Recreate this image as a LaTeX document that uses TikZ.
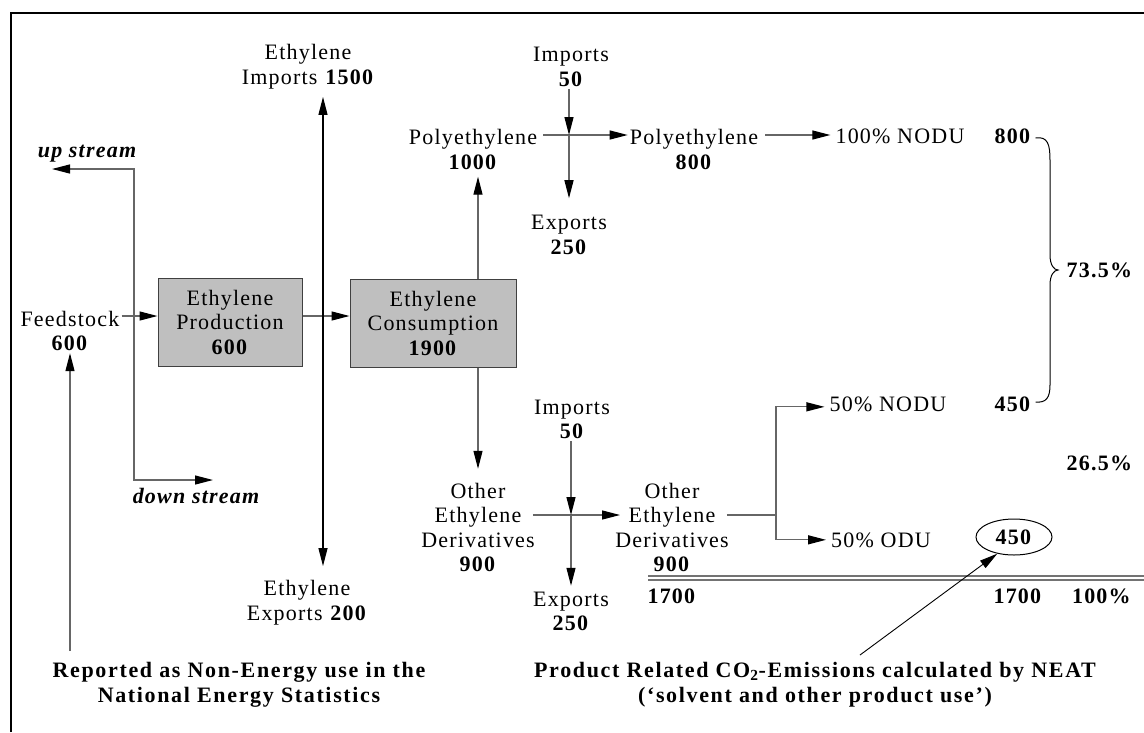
\documentclass[tikz,border=0pt]{standalone}
\usepackage{fontspec}
\setmainfont{Liberation Serif}[LetterSpace=5.5]
\newfontfamily\notefont{Liberation Serif}[LetterSpace=7.5]
\usetikzlibrary{arrows.meta,shapes.geometric}
\begin{document}
\begin{tikzpicture}[x=1pt,y=-1pt,
  every node/.style={inner sep=2pt, font=\fontsize{22}{24.5}\selectfont, align=center},
  bi/.style={font=\fontsize{22}{24.5}\selectfont\bfseries\itshape},
  note/.style={font=\fontsize{22}{25}\notefont\bfseries},
  box/.style={draw=black!75, fill=black!25, line width=1pt, inner sep=0pt},
  arr/.style={-{Triangle[length=18pt,width=9pt,color=black]}, draw=black!60, line width=1.2pt},
  arrb/.style={{Triangle[length=18pt,width=9pt,color=black]}-{Triangle[length=18pt,width=9pt,color=black]}, draw=black!60, line width=1.2pt},
  ln/.style={draw=black!60, line width=1.2pt},
  thinarr/.style={-{Triangle[length=18pt,width=9pt,color=black]}, draw=black, line width=0.9pt},
]
\useasboundingbox (0,0) rectangle (1144,732);
% frame
\draw[line width=1.3pt] (11,732) -- (11,13) -- (1144,13);

% nodes
\node (impE) at (308,66.5) {Ethylene\\Imports \textbf{1500}};
\node (expE) at (307,602.5) {Ethylene\\Exports \textbf{200}};
\node[bi, anchor=base] (up) at (87,157) {up stream};
\node[bi, anchor=base] (down) at (196,503) {down stream};
\node (feed) at (70,331) {Feedstock\\\textbf{600}};
\node[box, minimum width=144pt, minimum height=88pt] (prod) at (230,322) {Ethylene\\Production\\\textbf{600}};
\node[box, minimum width=166pt, minimum height=88pt] (cons) at (433,323) {Ethylene\\Consumption\\\textbf{1900}};

\node (polyA) at (473,149.5) {Polyethylene\\\textbf{1000}};
\coordinate (c1) at (569,135);
\node (imp1) at (571,67) {Imports\\\textbf{50}};
\node (exp1) at (569,235) {Exports\\\textbf{250}};
\node (polyB) at (694,149.5) {Polyethylene\\\textbf{800}};
\node[anchor=base] (nodu1) at (900,143) {100\% NODU};
\node[anchor=base] (v800) at (1013,143) {\textbf{800}};
\node[anchor=base] (p735) at (1100,277) {\textbf{73.5\%}};
\node[anchor=base] (nodu2) at (888,411) {50\% NODU};
\node[anchor=base] (v450) at (1013,411) {\textbf{450}};
\node[anchor=base] (p265) at (1100,470) {\textbf{26.5\%}};
\node[anchor=base] (odu) at (881,547) {50\% ODU};
\node[draw, ellipse, line width=1pt, minimum width=76pt, minimum height=36pt, inner sep=0pt] (e450) at (1014,537) {\textbf{450}};

\node (derA) at (478,527.5) {Other\\Ethylene\\Derivatives\\\textbf{900}};
\coordinate (c2) at (571,515);
\node (imp2) at (572,419.5) {Imports\\\textbf{50}};
\node (exp2) at (571,611.5) {Exports\\\textbf{250}};
\node (derB) at (672,527.5) {Other\\Ethylene\\Derivatives\\\textbf{900}};
\coordinate (split) at (776,515);

\node[anchor=base] (t1700a) at (672,603) {\textbf{1700}};
\node[anchor=base] (t1700b) at (1018,603) {\textbf{1700}};
\node[anchor=base] (t100) at (1102,603) {\textbf{100\%}};

\node[note] (noteL) at (239,684.5) {Reported as Non-Energy use in the\\National Energy Statistics};
\node[note] (noteR) at (815,684.5) {Product Related CO\textsubscript{2}-Emissions calculated by NEAT\\(‘solvent and other product use’)};

% coordinates for connectors
\coordinate (usj) at (134,169);
\coordinate (dsj) at (134,480);
\coordinate (upend) at (52,169);
\coordinate (downend) at (213,480);
\coordinate (ethx) at (323,0);
\coordinate (vx2) at (478,0);
\coordinate (noteLtop) at (70,651);
\coordinate (noteRtop) at (860,655);
\coordinate (dlA) at (648,578);
\coordinate (dlB) at (1144,578);

% connectors
\draw[arrb] (upend) -- (usj) -- (dsj) -- (downend);
\draw[arr] ([yshift=6pt]prod.west -| feed.east) -- ([yshift=6pt]prod.west);
\draw[arr] ([yshift=6pt]prod.east) -- ([yshift=6pt]prod.east -| cons.west);
\draw[arrb, draw=black] ([yshift=-6pt]impE.south -| ethx) -- ([yshift=12pt]expE.north -| ethx);
\draw[arr] (cons.north -| vx2) -- ([yshift=-5pt]polyA.south -| vx2);
\draw[arr] (cons.south -| vx2) -- ([yshift=12pt]derA.north -| vx2);

\draw[arr] ([xshift=4pt]polyA.east |- c1) -- (polyB.west |- c1);
\draw[arr] (imp1.south -| c1) -- (c1);
\draw[arr] (c1) -- ([yshift=15pt]exp1.north -| c1);
\draw[arr] ([xshift=5pt]polyB.east |- c1) -- ([xshift=-3pt]nodu1.west |- c1);

\draw[arr] ([xshift=-4pt]derA.east |- c2) -- ([xshift=7pt]derB.west |- c2);
\draw[arr] (imp2.south -| c2) -- (c2);
\draw[arr] (c2) -- ([yshift=4pt]exp2.north -| c2);
\draw[ln] ([xshift=-4pt]derB.east |- split) -- (split);
\draw[arr] (split) |- ([xshift=-3pt,yshift=-3pt]nodu2.west);
\draw[arr] (split) |- ([xshift=-3pt]odu.west);

% brace
\draw[line width=1pt] ([xshift=2pt]v800.east |- 0,138) .. controls (1048,136) and (1050,145) .. (1050,160) -- (1050,255)
  .. controls (1050,265) and (1054,270) .. (1058,270)
  .. controls (1054,270) and (1050,275) .. (1050,285) -- (1050,385)
  .. controls (1050,398) and (1046,403) .. ([xshift=2pt]v450.east |- 0,402);

% double line
\draw[draw=black!55, line width=1.2pt] ([yshift=2pt]dlA) -- ([yshift=2pt]dlB);
\draw[draw=black!55, line width=1.2pt] ([yshift=-2pt]dlA) -- ([yshift=-2pt]dlB);

% notes
\draw[arr] (noteLtop) -- (feed.south);
\draw[thinarr] (noteRtop) -- (e450.225);
\end{tikzpicture}
\end{document}
